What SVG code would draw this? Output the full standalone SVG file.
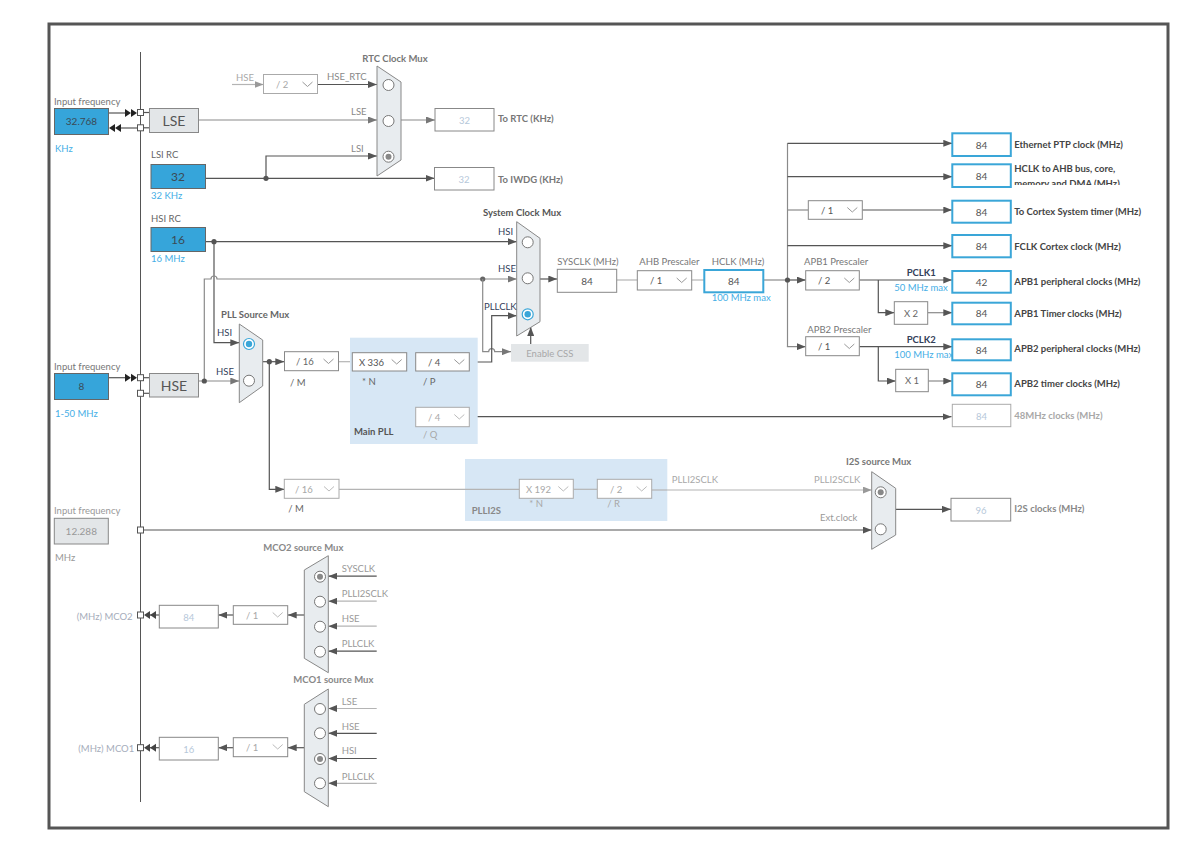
<svg xmlns="http://www.w3.org/2000/svg" width="1181" height="863" viewBox="0 0 1181 863">
<style>
.t{font-family:Lato,"Noto Sans",sans-serif;font-size:9.5px;fill:#777}
.b{font-weight:bold}
.m{text-anchor:middle}
.blu{fill:#45aee6}
.nav{fill:#34405a}
.dk{fill:#444}
.lt{fill:#a8a8a8}
.dis{fill:#b6c8da}
.v{font-size:10px;fill:#555;text-anchor:middle}
.box{fill:#fff;stroke:#888;stroke-width:1}
.boxl{fill:#fff;stroke:#aaa;stroke-width:1}
.bl{fill:#36a5da;stroke:#666;stroke-width:1}
.gb{fill:#e3e6e8;stroke:#888;stroke-width:1}
.ob{fill:#fff;stroke:#3aa6d8;stroke-width:2}
.mux{fill:#e8ecef;stroke:#888;stroke-width:1}
.rd{fill:#fff;stroke:#777;stroke-width:1}
.ln{stroke:#555;fill:none;stroke-width:1.2}
.md{stroke:#8a8a8a;fill:none;stroke-width:1.2}
.lg{stroke:#b4b4b4;fill:none;stroke-width:1.2}
.chev{stroke:#999;fill:none;stroke-width:1}
.sq{fill:#fff;stroke:#555;stroke-width:1}
</style>
<defs>
<marker id="ad" viewBox="0 0 9 7" refX="9" refY="3.5" markerWidth="9" markerHeight="7" markerUnits="userSpaceOnUse" orient="auto"><path d="M0,0 L9,3.5 L0,7 z" fill="#555"/></marker>
<marker id="am" viewBox="0 0 9 7" refX="9" refY="3.5" markerWidth="9" markerHeight="7" markerUnits="userSpaceOnUse" orient="auto"><path d="M0,0 L9,3.5 L0,7 z" fill="#777"/></marker>
<marker id="al" viewBox="0 0 9 7" refX="9" refY="3.5" markerWidth="9" markerHeight="7" markerUnits="userSpaceOnUse" orient="auto"><path d="M0,0 L9,3.5 L0,7 z" fill="#999"/></marker>
<clipPath id="clipHclk"><rect x="1012" y="160" width="150" height="25"/></clipPath>
</defs>
<rect x="0" y="0" width="1181" height="863" fill="#fff"/>
<rect x="49" y="24" width="1119" height="804" fill="none" stroke="#555" stroke-width="3"/>
<line x1="140.5" y1="52" x2="140.5" y2="802" stroke="#555" stroke-width="1"/>

<g id="connectors">
  <line class="ln" x1="108.7" y1="113" x2="125" y2="113"/>
  <polygon points="125,109 131,113 125,117" fill="#222"/>
  <polygon points="131,109 137,113 131,117" fill="#222"/>
  <line class="ln" x1="137.5" y1="128" x2="120" y2="128"/>
  <polygon points="115,124 109,128 115,132" fill="#222"/>
  <polygon points="121,124 115,128 121,132" fill="#222"/>
  <line class="ln" x1="143.5" y1="112.5" x2="149.5" y2="112.5"/>
  <line class="ln" x1="143.5" y1="127.8" x2="149.5" y2="127.8"/>
  <line class="md" x1="198.7" y1="120" x2="377" y2="120" marker-end="url(#am)"/>
  <line class="lg" x1="232" y1="84.5" x2="263.5" y2="84.5" marker-end="url(#al)"/>
  <line class="ln" x1="317.5" y1="84.5" x2="377" y2="84.5" marker-end="url(#ad)"/>
  <path class="ln" d="M266,178.3 V156 H377" marker-end="url(#ad)"/>
  <line class="ln" x1="205.7" y1="178.3" x2="434.5" y2="178.3" marker-end="url(#ad)"/>
  <circle cx="266" cy="178.3" r="2.6" fill="#555"/>
  <line class="md" x1="401" y1="120" x2="435" y2="120" marker-end="url(#am)"/>
  <line class="ln" x1="205.7" y1="241.7" x2="516.7" y2="241.7" marker-end="url(#ad)"/>
  <circle cx="214" cy="241.7" r="2.6" fill="#555"/>
  <path class="ln" d="M214,241.7 V342.7 H239.3" marker-end="url(#ad)"/>
  <line class="ln" x1="108.7" y1="377.7" x2="125" y2="377.7"/>
  <polygon points="125,373.7 131,377.7 125,381.7" fill="#222"/>
  <polygon points="131,373.7 137,377.7 131,381.7" fill="#222"/>
  <line class="ln" x1="143.5" y1="377.7" x2="149.5" y2="377.7"/>
  <line class="ln" x1="143.5" y1="393.3" x2="149.5" y2="393.3"/>
  <line class="md" x1="198.3" y1="381" x2="239.3" y2="381" marker-end="url(#am)"/>
  <path class="md" d="M204.3,381 V279 H211 A3,3 0 0 1 217,279 H516.7" marker-end="url(#am)"/>
  <circle cx="204.3" cy="381" r="2.6" fill="#555"/>
  <circle cx="482.7" cy="279" r="2.6" fill="#666"/>
  <path class="md" d="M482.7,279 V351.7 H488.7 A3,3 0 0 1 494.7,351.7 H511" marker-end="url(#am)"/>
  <line class="ln" x1="262.7" y1="361.7" x2="284.3" y2="361.7" marker-end="url(#ad)"/>
  <circle cx="269.3" cy="361.7" r="2.6" fill="#555"/>
  <path class="ln" d="M269.3,361.7 V489.3 H284.3" marker-end="url(#ad)"/>
  <line class="lg" x1="338.5" y1="361.7" x2="352.3" y2="361.7"/>
  <line class="ln" x1="406.7" y1="361.7" x2="415.7" y2="361.7"/>
  <path class="ln" d="M409,361.7 V416.7 H415.7"/>
  <line class="ln" x1="469.3" y1="416.7" x2="951.5" y2="416.7" marker-end="url(#ad)"/>
  <path class="ln" d="M469.3,362 H491.7 V315.7 H516.7" marker-end="url(#ad)"/>
  <line class="ln" x1="530.7" y1="344" x2="530.7" y2="327" marker-end="url(#ad)"/>
  <line class="ln" x1="540" y1="279" x2="557.3" y2="279" marker-end="url(#ad)"/>
  <line class="lg" x1="616.7" y1="280" x2="637.3" y2="280"/>
  <line class="lg" x1="691.7" y1="280" x2="704.3" y2="280"/>
  <line class="md" x1="763.3" y1="280" x2="787.5" y2="280"/>
  <line class="md" x1="787.5" y1="143.3" x2="787.5" y2="346.7"/>
  <circle cx="787.5" cy="280" r="2.6" fill="#555"/>
  <line class="ln" x1="787.5" y1="143.3" x2="952.3" y2="143.3" marker-end="url(#ad)"/>
  <line class="ln" x1="787.5" y1="176.7" x2="952.3" y2="176.7" marker-end="url(#ad)"/>
  <line class="md" x1="787.5" y1="210" x2="808.3" y2="210"/>
  <line class="ln" x1="862.3" y1="210" x2="952.3" y2="210" marker-end="url(#ad)"/>
  <line class="ln" x1="787.5" y1="245.7" x2="952.3" y2="245.7" marker-end="url(#ad)"/>
  <line class="ln" x1="787.5" y1="280" x2="805.7" y2="280" marker-end="url(#ad)"/>
  <line class="ln" x1="859.3" y1="280" x2="952.3" y2="280" marker-end="url(#ad)"/>
  <path class="ln" d="M878.3,280 V312.7 H894.3" marker-end="url(#ad)"/>
  <line class="md" x1="927.7" y1="312.7" x2="952.3" y2="312.7" marker-end="url(#ad)"/>
  <path class="md" d="M787.5,346 V346.7 H805.7" marker-end="url(#ad)"/>
  <line class="ln" x1="859.3" y1="346.7" x2="952.3" y2="346.7" marker-end="url(#ad)"/>
  <path class="ln" d="M878.3,346.7 V381 H895.7" marker-end="url(#ad)"/>
  <line class="md" x1="928.3" y1="381" x2="952.3" y2="381" marker-end="url(#ad)"/>
  <line class="lg" x1="339" y1="489.3" x2="519.3" y2="489.3"/>
  <line class="lg" x1="573.3" y1="489.3" x2="597.3" y2="489.3"/>
  <line class="lg" x1="651.7" y1="490" x2="871.7" y2="490" marker-end="url(#al)"/>
  <line class="ln" x1="143.5" y1="530" x2="871.7" y2="530" marker-end="url(#ad)"/>
  <line class="ln" x1="895.7" y1="509.3" x2="951" y2="509.3" marker-end="url(#ad)"/>
  <line class="ln" x1="376.7" y1="576.2" x2="328.3" y2="576.2" marker-end="url(#ad)"/>
  <line class="lg" x1="376.7" y1="601.2" x2="328.3" y2="601.2" marker-end="url(#ad)"/>
  <line class="lg" x1="376.7" y1="626.2" x2="328.3" y2="626.2" marker-end="url(#ad)"/>
  <line class="ln" x1="376.7" y1="651.2" x2="328.3" y2="651.2" marker-end="url(#ad)"/>
  <line class="ln" x1="304.3" y1="615" x2="287.7" y2="615" marker-end="url(#ad)"/>
  <line class="ln" x1="233.3" y1="615" x2="218.3" y2="615" marker-end="url(#ad)"/>
  <line class="ln" x1="159.3" y1="615" x2="150" y2="615"/>
  <polygon points="150,611 144,615 150,619" fill="#444"/>
  <polygon points="156,611 150,615 156,619" fill="#444"/>
  <line class="lg" x1="376.7" y1="708.5" x2="328.3" y2="708.5" marker-end="url(#ad)"/>
  <line class="ln" x1="376.7" y1="733.3" x2="328.3" y2="733.3" marker-end="url(#ad)"/>
  <line class="ln" x1="376.7" y1="758.5" x2="328.3" y2="758.5" marker-end="url(#ad)"/>
  <line class="lg" x1="376.7" y1="783.3" x2="328.3" y2="783.3" marker-end="url(#ad)"/>
  <line class="ln" x1="304.3" y1="747.7" x2="287.7" y2="747.7" marker-end="url(#ad)"/>
  <line class="ln" x1="233.3" y1="747.7" x2="218.3" y2="747.7" marker-end="url(#ad)"/>
  <line class="ln" x1="159.3" y1="747.7" x2="150" y2="747.7"/>
  <polygon points="150,743.7 144,747.7 150,751.7" fill="#444"/>
  <polygon points="156,743.7 150,747.7 156,751.7" fill="#444"/>
</g>

<g id="lse-input">
  <text class="t" x="54" y="105">Input frequency</text>
  <rect class="bl" x="54.5" y="108.5" width="54" height="26"/>
  <text class="t v" x="81.5" y="125" style="fill:#3b4a55">32.768</text>
  <text class="t blu" x="55" y="152">KHz</text>
  <rect class="sq" x="137.5" y="109.5" width="6" height="6"/>
  <rect class="sq" x="137.5" y="124.8" width="6" height="6"/>
</g>
<g id="lse">
  <rect class="gb" x="149.5" y="108.5" width="49" height="24"/>
  <text class="t m" x="174" y="125.5" style="font-size:14px;fill:#555">LSE</text>
</g>
<g id="lsi-rc">
  <text class="t" x="151" y="158" style="fill:#666">LSI RC</text>
  <rect class="bl" x="151" y="164.5" width="54.5" height="24"/>
  <text class="t m" x="178" y="181" style="font-size:12px;fill:#3b4a55">32</text>
  <text class="t blu" x="151" y="199">32 KHz</text>
</g>
<g id="hsi-rc">
  <text class="t" x="151" y="221.5" style="fill:#666">HSI RC</text>
  <rect class="bl" x="151" y="227.5" width="54.5" height="24"/>
  <text class="t m" x="178" y="244" style="font-size:12px;fill:#3b4a55">16</text>
  <text class="t blu" x="151" y="262">16 MHz</text>
</g>
<g id="hse-input">
  <text class="t" x="54" y="370">Input frequency</text>
  <rect class="bl" x="54.5" y="373.5" width="54" height="26"/>
  <text class="t v" x="81.5" y="390" style="fill:#3b4a55">8</text>
  <text class="t blu" x="55" y="417">1-50 MHz</text>
  <rect class="sq" x="137.5" y="374.7" width="6" height="6"/>
  <rect class="sq" x="137.5" y="390.3" width="6" height="6"/>
</g>
<g id="hse">
  <rect class="gb" x="149.5" y="373.5" width="49" height="23.5"/>
  <text class="t m" x="174" y="390.5" style="font-size:14px;fill:#555">HSE</text>
</g>

<g id="rtc-div">
  <text class="t lt" x="236" y="81">HSE</text>
  <rect class="boxl" x="263.5" y="74.5" width="54" height="19"/>
  <text class="t lt" x="276" y="88">/ 2</text>
  <polyline class="chev" points="302.5,82 307.5,86.5 312.5,82"/>
  <text class="t" x="327" y="80" style="fill:#888">HSE_RTC</text>
</g>
<g id="rtc-mux">
  <text class="t b m" x="395" y="62">RTC Clock Mux</text>
  <polygon class="mux" points="377,66 401,82 401,160 377,176"/>
  <circle class="rd" cx="388.5" cy="85" r="5.5"/>
  <circle class="rd" cx="388.5" cy="121" r="5.5"/>
  <circle class="rd" cx="388.5" cy="156.7" r="5.5"/>
  <circle cx="388.5" cy="156.7" r="3" fill="#888"/>
  <text class="t" x="351" y="115" style="fill:#888">LSE</text>
  <text class="t" x="351" y="152" style="fill:#888">LSI</text>
</g>
<g id="to-rtc">
  <rect class="box" x="435" y="108.5" width="59" height="22.5"/>
  <text class="t m dis" x="464.5" y="123.5">32</text>
  <text class="t b" x="498" y="122">To RTC (KHz)</text>
</g>
<g id="to-iwdg">
  <rect class="box" x="434.5" y="167.5" width="59.5" height="22.5"/>
  <text class="t m dis" x="464" y="182.5">32</text>
  <text class="t b" x="498" y="182.5">To IWDG (KHz)</text>
</g>

<g id="pll-source-mux">
  <text class="t b" x="221" y="318" style="fill:#666">PLL Source Mux</text>
  <polygon class="mux" points="239.3,324 262.7,340 262.7,386 239.3,402.7"/>
  <circle cx="249" cy="344" r="5.5" fill="#fff" stroke="#3aa6d8" stroke-width="1.2"/>
  <circle cx="249" cy="344" r="3.2" fill="#3aa6d8"/>
  <circle class="rd" cx="249" cy="380.7" r="5.5"/>
  <text class="t nav" x="217" y="336">HSI</text>
  <text class="t nav" x="216" y="375">HSE</text>
</g>
<g id="pll-m">
  <rect class="box" x="284.5" y="351.7" width="54" height="19"/>
  <text class="t" x="296" y="365" style="fill:#666">/ 16</text>
  <polyline class="chev" points="323.5,359 328.5,363.5 333.5,359"/>
  <text class="t" x="290" y="386" style="fill:#666">/ M</text>
</g>
<g id="main-pll">
  <rect x="350" y="337.7" width="127.7" height="106.3" fill="#d7e7f5"/>
  <rect class="box" x="352.3" y="352.7" width="54.4" height="18.3"/>
  <text class="t" x="359" y="366" style="fill:#555">X 336</text>
  <polyline class="chev" points="391.7,359.5 396.7,364 401.7,359.5"/>
  <text class="t" x="362" y="385" style="fill:#666">* N</text>
  <rect class="box" x="415.7" y="352.7" width="53.6" height="18.3"/>
  <text class="t" x="428" y="366" style="fill:#555">/ 4</text>
  <polyline class="chev" points="454.3,359.5 459.3,364 464.3,359.5"/>
  <text class="t" x="423" y="385" style="fill:#666">/ P</text>
  <rect class="boxl" x="415.7" y="407.3" width="53.6" height="19.4"/>
  <text class="t lt" x="428" y="421">/ 4</text>
  <polyline class="chev" style="stroke:#bbb" points="454.3,414.5 459.3,419 464.3,414.5"/>
  <text class="t lt" x="423" y="438">/ Q</text>
  <text class="t b" x="354" y="435" style="fill:#555">Main PLL</text>
</g>
<g id="enable-css">
  <rect x="511" y="344" width="77.7" height="17.7" fill="#e3e6e8"/>
  <text class="t m lt" x="549.8" y="356.5">Enable CSS</text>
</g>
<g id="system-clock-mux">
  <text class="t b" x="483" y="216" style="fill:#555">System Clock Mux</text>
  <polygon class="mux" points="516.7,221.7 540,238.3 540,321.7 516.7,336"/>
  <circle class="rd" cx="527.7" cy="242.3" r="5.5"/>
  <circle class="rd" cx="527.7" cy="278.3" r="5.5"/>
  <circle cx="527.7" cy="314.3" r="5.5" fill="#fff" stroke="#3aa6d8" stroke-width="1.2"/>
  <circle cx="527.7" cy="314.3" r="3.2" fill="#3aa6d8"/>
  <text class="t nav" x="498" y="235">HSI</text>
  <text class="t nav" x="498" y="271.7">HSE</text>
  <text class="t nav" x="484" y="310">PLLCLK</text>
</g>
<g id="sysclk">
  <text class="t" x="557.3" y="265">SYSCLK (MHz)</text>
  <rect class="box" x="557.3" y="269.3" width="59.4" height="23"/>
  <text class="t v" x="587" y="284.5">84</text>
</g>
<g id="ahb-prescaler">
  <text class="t" x="639.3" y="265">AHB Prescaler</text>
  <rect class="box" x="637.3" y="270.7" width="54.4" height="19.3"/>
  <text class="t" x="650" y="284" style="fill:#555">/ 1</text>
  <polyline class="chev" points="676.7,278 681.7,282.5 686.7,278"/>
</g>
<g id="hclk">
  <text class="t" x="711.7" y="265">HCLK (MHz)</text>
  <rect class="ob" x="704.3" y="270" width="59" height="22.3"/>
  <text class="t v" x="733.8" y="285">84</text>
  <text class="t blu" x="711.7" y="301">100 MHz max</text>
</g>
<g id="cortex-div">
  <rect class="box" x="808.3" y="200.7" width="54" height="18.6"/>
  <text class="t" x="821" y="214" style="fill:#555">/ 1</text>
  <polyline class="chev" points="847.3,207.5 852.3,212 857.3,207.5"/>
</g>
<g id="apb1-prescaler">
  <text class="t" x="804" y="265">APB1 Prescaler</text>
  <rect class="box" x="805.7" y="270.7" width="53.6" height="19.3"/>
  <text class="t" x="818" y="284" style="fill:#555">/ 2</text>
  <polyline class="chev" points="844.3,278 849.3,282.5 854.3,278"/>
  <text class="t b nav" x="906.7" y="276">PCLK1</text>
  <text class="t blu" x="894.3" y="291">50 MHz max</text>
</g>
<g id="apb1-x2">
  <rect class="box" x="894.3" y="301.7" width="33.4" height="22.6"/>
  <text class="t m" x="911" y="316.5" style="fill:#666">X 2</text>
</g>
<g id="apb2-prescaler">
  <text class="t" x="807.3" y="333">APB2 Prescaler</text>
  <rect class="box" x="805.7" y="336.7" width="53.6" height="19"/>
  <text class="t" x="818" y="350" style="fill:#555">/ 1</text>
  <polyline class="chev" points="844.3,344 849.3,348.5 854.3,344"/>
  <text class="t b nav" x="906.7" y="343">PCLK2</text>
  <text class="t blu" x="894.3" y="357.5">100 MHz max</text>
</g>
<g id="apb2-x1">
  <rect class="box" x="895.7" y="369.3" width="32.6" height="22.4"/>
  <text class="t m" x="912" y="384" style="fill:#666">X 1</text>
</g>

<g id="out-ethernet">
  <rect class="ob" x="952.3" y="133.3" width="58.5" height="22.7"/>
  <text class="t v" x="981.5" y="148.5">84</text>
  <text class="t b dk" x="1014.3" y="148">Ethernet PTP clock (MHz)</text>
</g>
<g id="out-hclk">
  <rect class="ob" x="952.3" y="164.3" width="58.5" height="22.7"/>
  <text class="t v" x="981.5" y="179.5">84</text>
  <g clip-path="url(#clipHclk)">
    <text class="t b dk" x="1014.3" y="172">HCLK to AHB bus, core,</text>
    <text class="t b dk" x="1014.3" y="186.5">memory and DMA (MHz)</text>
  </g>
</g>
<g id="out-cortex">
  <rect class="ob" x="952.3" y="200.7" width="58.5" height="22"/>
  <text class="t v" x="981.5" y="215.5">84</text>
  <text class="t b dk" x="1014.3" y="215">To Cortex System timer (MHz)</text>
</g>
<g id="out-fclk">
  <rect class="ob" x="952.3" y="235" width="58.5" height="22.3"/>
  <text class="t v" x="981.5" y="250">84</text>
  <text class="t b dk" x="1014.3" y="249.5">FCLK Cortex clock (MHz)</text>
</g>
<g id="out-apb1p">
  <rect class="ob" x="952.3" y="271" width="58.5" height="21.7"/>
  <text class="t v" x="981.5" y="285.5">42</text>
  <text class="t b dk" x="1014.3" y="285">APB1 peripheral clocks (MHz)</text>
</g>
<g id="out-apb1t">
  <rect class="ob" x="952.3" y="302.7" width="58.5" height="21.6"/>
  <text class="t v" x="981.5" y="317">84</text>
  <text class="t b dk" x="1014.3" y="316.5">APB1 Timer clocks (MHz)</text>
</g>
<g id="out-apb2p">
  <rect class="ob" x="952.3" y="339.3" width="58.5" height="21"/>
  <text class="t v" x="981.5" y="353.5">84</text>
  <text class="t b dk" x="1014.3" y="352">APB2 peripheral clocks (MHz)</text>
</g>
<g id="out-apb2t">
  <rect class="ob" x="952.3" y="373.3" width="58.5" height="22"/>
  <text class="t v" x="981.5" y="388">84</text>
  <text class="t b dk" x="1014.3" y="386.5">APB2 timer clocks (MHz)</text>
</g>
<g id="out-48mhz">
  <rect class="boxl" x="952.3" y="404.3" width="58.5" height="22.4"/>
  <text class="t m dis" x="981.5" y="419.5">84</text>
  <text class="t b lt" x="1014.3" y="418.5">48MHz clocks (MHz)</text>
</g>

<g id="plli2s-m">
  <rect class="boxl" x="284.3" y="479.3" width="54.7" height="19"/>
  <text class="t lt" x="295" y="492.5">/ 16</text>
  <polyline class="chev" style="stroke:#bbb" points="324,486.5 329,491 334,486.5"/>
  <text class="t" x="288.3" y="512" style="fill:#666">/ M</text>
</g>
<g id="plli2s">
  <rect x="465" y="459" width="202.3" height="62" fill="#d7e7f5"/>
  <line class="lg" x1="465" y1="489.3" x2="519.3" y2="489.3"/>
  <line class="lg" x1="573.3" y1="489.3" x2="597.3" y2="489.3"/>
  <line class="lg" x1="651.7" y1="490" x2="667.3" y2="490"/>
  <rect class="boxl" x="519.3" y="479.3" width="54" height="19"/>
  <text class="t lt" x="526" y="492.5">X 192</text>
  <polyline class="chev" style="stroke:#bbb" points="558.3,486.5 563.3,491 568.3,486.5"/>
  <text class="t lt" x="529.3" y="507">* N</text>
  <rect class="boxl" x="597.3" y="479.3" width="54.4" height="19"/>
  <text class="t lt" x="610" y="492.5">/ 2</text>
  <polyline class="chev" style="stroke:#bbb" points="636.7,486.5 641.7,491 646.7,486.5"/>
  <text class="t lt" x="607.3" y="507">/ R</text>
  <text class="t b" x="471.7" y="513.5" style="fill:#888">PLLI2S</text>
</g>
<g id="i2s-mux">
  <text class="t lt" x="671.7" y="482.5">PLLI2SCLK</text>
  <text class="t lt" x="814" y="482.5">PLLI2SCLK</text>
  <text class="t" x="820" y="521" style="fill:#999">Ext.clock</text>
  <text class="t b" x="846" y="465">I2S source Mux</text>
  <polygon class="mux" points="871.7,471.7 895.7,488.3 895.7,535 871.7,549.3"/>
  <circle class="rd" cx="880.7" cy="492.3" r="5.5"/>
  <circle cx="880.7" cy="492.3" r="3" fill="#888"/>
  <circle class="rd" cx="880.7" cy="529.3" r="5.5"/>
</g>
<g id="out-i2s">
  <rect class="box" x="951" y="498.3" width="59.7" height="22.7"/>
  <text class="t m dis" x="981" y="513.5">96</text>
  <text class="t b" x="1014.3" y="512" style="fill:#888">I2S clocks (MHz)</text>
</g>
<g id="ext-input">
  <text class="t" x="54" y="514.3" style="fill:#999">Input frequency</text>
  <rect class="gb" x="54.3" y="518.3" width="54" height="25.7"/>
  <text class="t v" x="81.3" y="535" style="fill:#999">12.288</text>
  <text class="t" x="55" y="561" style="fill:#999">MHz</text>
  <rect class="sq" x="137.5" y="527" width="6" height="6"/>
</g>

<g id="mco2-mux">
  <text class="t b" x="263.3" y="551" style="fill:#888">MCO2 source Mux</text>
  <polygon class="mux" points="304.3,570 328.3,555.7 328.3,672.7 304.3,658.3"/>
  <circle class="rd" cx="320" cy="576.7" r="5.5"/>
  <circle cx="320" cy="576.7" r="3" fill="#888"/>
  <circle class="rd" cx="320" cy="601.7" r="5.5"/>
  <circle class="rd" cx="320" cy="626.7" r="5.5"/>
  <circle class="rd" cx="320" cy="651.7" r="5.5"/>
  <text class="t" x="341.7" y="571.7" style="fill:#999">SYSCLK</text>
  <text class="t" x="341.7" y="597" style="fill:#999">PLLI2SCLK</text>
  <text class="t" x="341.7" y="622" style="fill:#999">HSE</text>
  <text class="t" x="341.7" y="647" style="fill:#999">PLLCLK</text>
</g>
<g id="mco2-div">
  <rect class="box" x="233.3" y="605.7" width="54.4" height="18.6"/>
  <text class="t lt" x="246" y="619">/ 1</text>
  <polyline class="chev" style="stroke:#bbb" points="272.7,612.5 277.7,617 282.7,612.5"/>
</g>
<g id="mco2-out">
  <rect class="box" x="159.3" y="605.3" width="59" height="22.7"/>
  <text class="t m dis" x="188.8" y="620.5">84</text>
  <rect class="sq" x="137.5" y="612" width="6" height="6"/>
  <text class="t" x="76.7" y="619.5" style="fill:#a6adbb">(MHz) MCO2</text>
</g>
<g id="mco1-mux">
  <text class="t b" x="293.3" y="683.3" style="fill:#888">MCO1 source Mux</text>
  <polygon class="mux" points="304.3,704.3 328.3,689 328.3,806.7 304.3,791.7"/>
  <circle class="rd" cx="320" cy="709" r="5.5"/>
  <circle class="rd" cx="320" cy="733.3" r="5.5"/>
  <circle class="rd" cx="320" cy="759" r="5.5"/>
  <circle cx="320" cy="759" r="3" fill="#888"/>
  <circle class="rd" cx="320" cy="783.3" r="5.5"/>
  <text class="t" x="341.7" y="705" style="fill:#999">LSE</text>
  <text class="t" x="341.7" y="730" style="fill:#999">HSE</text>
  <text class="t" x="341.7" y="753.5" style="fill:#999">HSI</text>
  <text class="t" x="341.7" y="780" style="fill:#999">PLLCLK</text>
</g>
<g id="mco1-div">
  <rect class="box" x="233.3" y="737.7" width="54.4" height="19"/>
  <text class="t lt" x="246" y="751">/ 1</text>
  <polyline class="chev" style="stroke:#bbb" points="272.7,744.5 277.7,749 282.7,744.5"/>
</g>
<g id="mco1-out">
  <rect class="box" x="159.3" y="737.3" width="59" height="22.7"/>
  <text class="t m dis" x="188.8" y="752.5">16</text>
  <rect class="sq" x="137.5" y="744.7" width="6" height="6"/>
  <text class="t" x="78.3" y="752" style="fill:#a6adbb">(MHz) MCO1</text>
</g>
</svg>
